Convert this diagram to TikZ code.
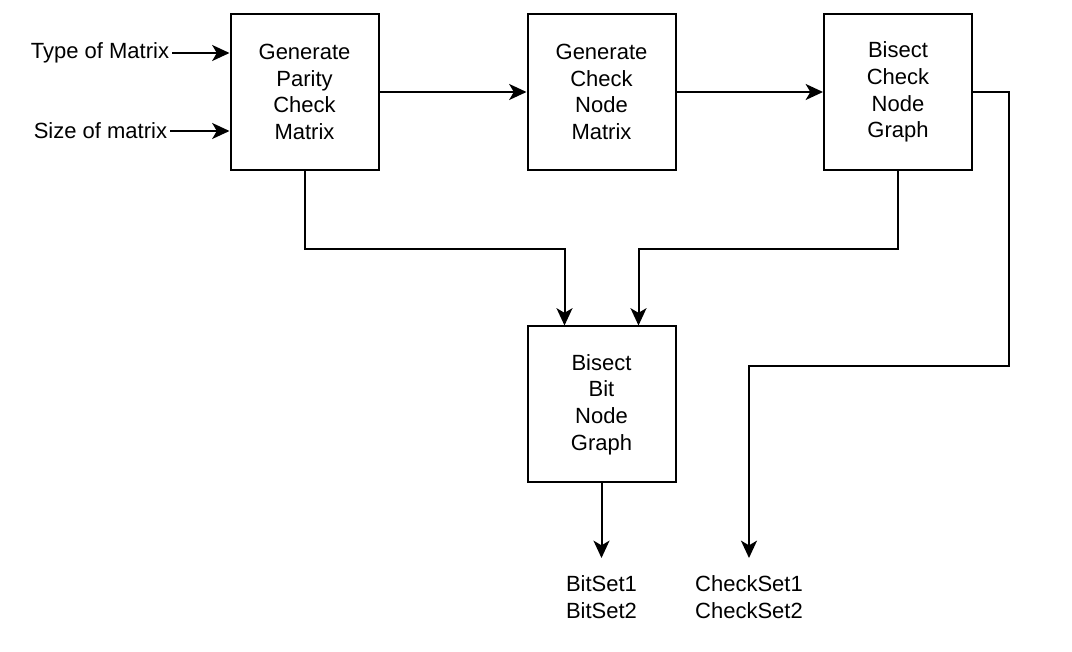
\documentclass[tikz,border=0pt]{standalone}
\usepackage{fontspec}
\setmainfont{Liberation Sans}
\usepackage{tikz}
\usetikzlibrary{calc, arrows.meta}

\tikzset{
	block/.style={draw, line width=1.5pt, minimum width=111pt, minimum height=117pt, align=center, font=\fontsize{16.5}{20}\selectfont},
	label/.style={font=\fontsize{16.5}{20}\selectfont, align=center},
	arr/.style={line width=1.5pt, -{Stealth[length=13pt, width=12pt, inset=3.5pt]}},
	wire/.style={line width=1.5pt}
}

\begin{document}
\begin{tikzpicture}[x=0.75pt, y=-0.75pt]
			\useasboundingbox (0,0) rectangle (1072,652);

			\node [block] (pcm) at (304.5,92) {Generate\\Parity\\Check\\Matrix};
			\node [block] (gcn) at (601.5,92) {Generate\\Check\\Node\\Matrix};
			\node [block] (bcg) at (898,92) {Bisect\\Check\\Node\\Graph};
			\node [block] (bbg) at (601.5,404.5) {Bisect\\Bit\\Node\\Graph};

			\node [label, anchor=east, inner sep=2pt] (tom) at (172,53) {Type of Matrix};
			\node [label, anchor=east, inner sep=2pt] (som) at (170,131) {Size of matrix};
			\node [label, anchor=north, inner ysep=13pt] (bits) at (601.5,558) {BitSet1\\BitSet2};
			\node [label, anchor=north, inner ysep=13pt] (checks) at (749,558) {CheckSet1\\CheckSet2};
			\coordinate (turn) at (1009,366);

			\draw [arr] (tom.east) to (tom.east -| pcm.west);
			\draw [arr] (som.east) to (som.east -| pcm.west);
			\draw [arr] (pcm.east) to (gcn.west);
			\draw [arr] (gcn.east) to (bcg.west);
			\draw [arr] (pcm.south) -- ++(0,78) -| ($(bbg.north)+(-37,0)$);
			\draw [arr] (bcg.south) -- ++(0,78) -| ($(bbg.north)+(37,0)$);
			\draw [arr] (bcg.east) -| (turn) -| (checks.north);
			\draw [arr] (bbg.south) to (bits.north);
		\end{tikzpicture}
\end{document}
